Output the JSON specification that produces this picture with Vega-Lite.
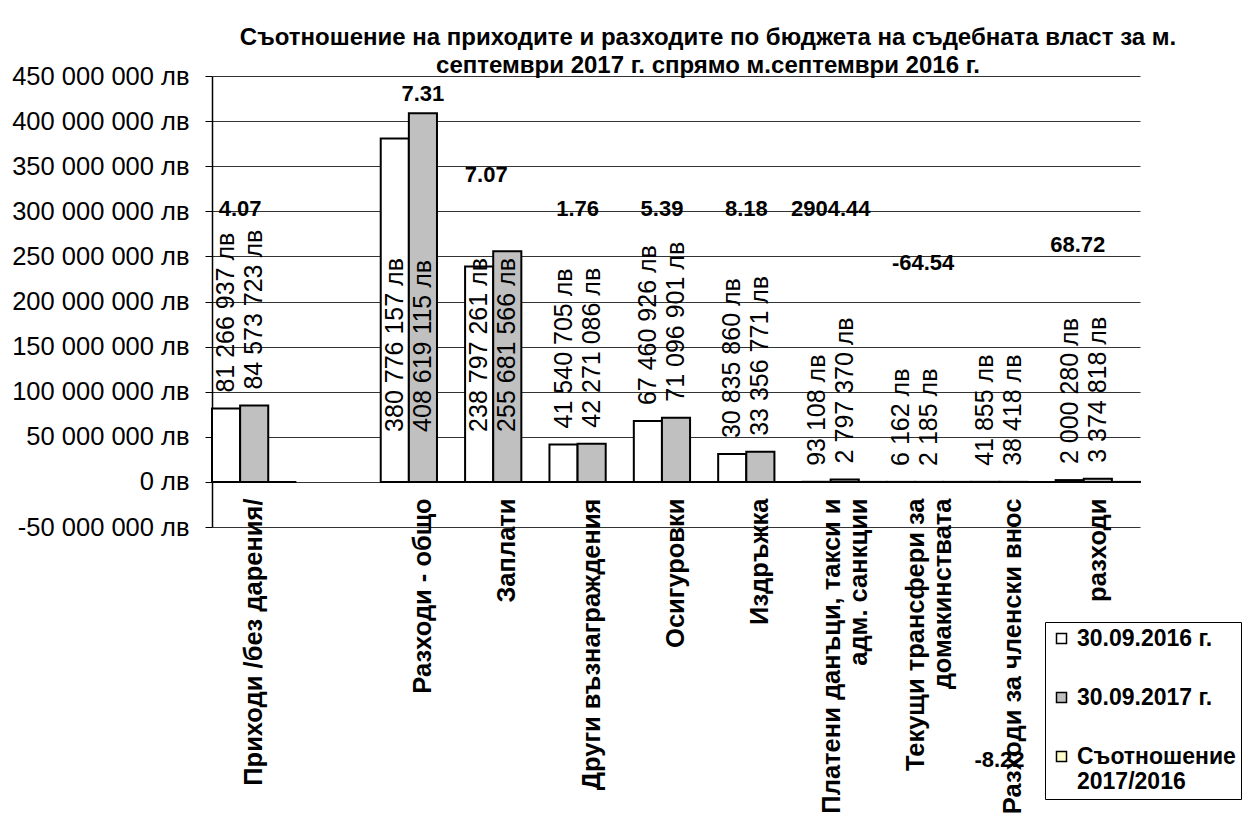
{
  "$schema": "https://vega.github.io/schema/vega-lite/v6.json",
  "width": 928,
  "height": 451,
  "autosize": {"type": "none"},
  "padding": {"left": 212, "top": 76, "right": 115, "bottom": 302},
  "background": "white",
  "config": {
    "locale": {"number": {"decimal": ".", "thousands": " ", "grouping": [3], "currency": ["", " лв"], "minus": "-"}},
    "font": "Liberation Sans",
    "view": {"stroke": null}
  },
  "title": {
    "text": ["Съотношение на приходите и разходите по бюджета на съдебната власт за м.", "септември 2017 г. спрямо м.септември 2016 г."],
    "font": "Liberation Sans",
    "fontSize": 24,
    "fontWeight": "bold",
    "color": "black",
    "anchor": "middle",
    "frame": "group",
    "dx": 32,
    "dy": 18,
    "offset": 4,
    "lineHeight": 28
  },
  "data": {
    "values": [
      {"category": "Приходи /без дарения/", "series": "30.09.2016 г.", "value": 81266937},
      {"category": "Приходи /без дарения/", "series": "30.09.2017 г.", "value": 84573723},
      {"category": "Приходи /без дарения/", "series": "Съотношение 2017/2016", "value": 4.07},
      {"category": "Разходи - общо", "series": "30.09.2016 г.", "value": 380776157},
      {"category": "Разходи - общо", "series": "30.09.2017 г.", "value": 408619115},
      {"category": "Разходи - общо", "series": "Съотношение 2017/2016", "value": 7.31},
      {"category": "Заплати", "series": "30.09.2016 г.", "value": 238797261},
      {"category": "Заплати", "series": "30.09.2017 г.", "value": 255681566},
      {"category": "Заплати", "series": "Съотношение 2017/2016", "value": 7.07},
      {"category": "Други възнаграждения", "series": "30.09.2016 г.", "value": 41540705},
      {"category": "Други възнаграждения", "series": "30.09.2017 г.", "value": 42271086},
      {"category": "Други възнаграждения", "series": "Съотношение 2017/2016", "value": 1.76},
      {"category": "Осигуровки", "series": "30.09.2016 г.", "value": 67460926},
      {"category": "Осигуровки", "series": "30.09.2017 г.", "value": 71096901},
      {"category": "Осигуровки", "series": "Съотношение 2017/2016", "value": 5.39},
      {"category": "Издръжка", "series": "30.09.2016 г.", "value": 30835860},
      {"category": "Издръжка", "series": "30.09.2017 г.", "value": 33356771},
      {"category": "Издръжка", "series": "Съотношение 2017/2016", "value": 8.18},
      {"category": "Платени данъци, такси и\nадм. санкции", "series": "30.09.2016 г.", "value": 93108},
      {"category": "Платени данъци, такси и\nадм. санкции", "series": "30.09.2017 г.", "value": 2797370},
      {"category": "Платени данъци, такси и\nадм. санкции", "series": "Съотношение 2017/2016", "value": 2904.44},
      {"category": "Текущи трансфери за\nдомакинствата", "series": "30.09.2016 г.", "value": 6162},
      {"category": "Текущи трансфери за\nдомакинствата", "series": "30.09.2017 г.", "value": 2185},
      {"category": "Текущи трансфери за\nдомакинствата", "series": "Съотношение 2017/2016", "value": -64.54},
      {"category": "Разходи за членски внос", "series": "30.09.2016 г.", "value": 41855},
      {"category": "Разходи за членски внос", "series": "30.09.2017 г.", "value": 38418},
      {"category": "Разходи за членски внос", "series": "Съотношение 2017/2016", "value": -8.22},
      {"category": "Капиталови\u00a0\u00a0\u00a0\u00a0разходи", "series": "30.09.2016 г.", "value": 2000280},
      {"category": "Капиталови\u00a0\u00a0\u00a0\u00a0разходи", "series": "30.09.2017 г.", "value": 3374818},
      {"category": "Капиталови\u00a0\u00a0\u00a0\u00a0разходи", "series": "Съотношение 2017/2016", "value": 68.72}
    ]
  },
  "encoding": {
    "x": {
      "field": "category",
      "type": "nominal",
      "scale": {
        "domain": ["Приходи /без дарения/", " ", "Разходи - общо", "Заплати", "Други възнаграждения", "Осигуровки", "Издръжка", "Платени данъци, такси и\nадм. санкции", "Текущи трансфери за\nдомакинствата", "Разходи за членски внос", "Капиталови\u00a0\u00a0\u00a0\u00a0разходи"],
        "paddingInner": 0,
        "paddingOuter": 0
      },
      "axis": {
        "title": null,
        "orient": "bottom",
        "offset": -45,
        "domain": false,
        "ticks": false,
        "grid": false,
        "labelAngle": -90,
        "labelAlign": "right",
        "labelBaseline": "middle",
        "labelFont": "Liberation Sans",
        "labelFontSize": 25.5,
        "labelFontWeight": "bold",
        "labelColor": "black",
        "labelLimit": 600,
        "labelPadding": 16,
        "labelOverlap": false,
        "labelLineHeight": 27,
        "labelOffset": {"condition": {"test": "indexof(datum.value, '\\n') >= 0", "value": -13}, "value": 0},
        "labelExpr": "split(datum.label, '\\n')"
      }
    }
  },
  "layer": [
    {
      "mark": {"type": "bar", "stroke": "black", "strokeWidth": 2},
      "encoding": {
        "xOffset": {
          "field": "series",
          "type": "nominal",
          "scale": {"domain": ["30.09.2016 г.", "30.09.2017 г.", "Съотношение 2017/2016"], "paddingInner": 0, "paddingOuter": 0}
        },
        "y": {
          "field": "value",
          "type": "quantitative",
          "scale": {"domain": [-50000000, 450000000], "nice": false, "zero": true},
          "axis": {
            "title": null,
            "values": [-50000000, 0, 50000000, 100000000, 150000000, 200000000, 250000000, 300000000, 350000000, 400000000, 450000000],
            "format": "$,.0f",
            "labelFont": "Liberation Sans",
            "labelFontSize": 25.5,
            "labelLimit": 400,
            "labelColor": "black",
            "labelPadding": 16,
            "grid": true,
            "gridColor": "#333333",
            "gridWidth": 1,
            "domainColor": "black",
            "domainWidth": 1.5,
            "tickColor": "black",
            "tickSize": 7,
            "tickWidth": 1
          }
        },
        "color": {
          "field": "series",
          "type": "nominal",
          "scale": {"domain": ["30.09.2016 г.", "30.09.2017 г.", "Съотношение 2017/2016"], "range": ["#FFFFFF", "#C0C0C0", "#FFFFCC"]},
          "legend": {
            "title": null,
            "orient": "none",
            "legendX": 833,
            "legendY": 546,
            "direction": "vertical",
            "symbolType": "square",
            "symbolSize": 100,
            "symbolStrokeColor": "black",
            "symbolStrokeWidth": 1.5,
            "symbolOpacity": 1,
            "labelFont": "Liberation Sans",
            "labelFontSize": 23,
            "labelFontWeight": "bold",
            "labelColor": "black",
            "labelLimit": 400,
            "labelOffset": 4,
            "rowPadding": 35,
            "padding": 5,
            "strokeColor": "black",
            "fillColor": "white",
            "labelExpr": "datum.label == 'Съотношение 2017/2016' ? ['Съотношение', '2017/2016'] : datum.label"
          }
        }
      }
    },
    {
      "transform": [{"filter": "datum.series != 'Съотношение 2017/2016' && datum.value < 200000000"}],
      "mark": {"type": "text", "angle": 270, "align": "left", "baseline": "middle", "dx": 16, "fontSize": 25, "font": "Liberation Sans", "color": "black"},
      "encoding": {
        "xOffset": {"field": "series", "type": "nominal"},
        "y": {"field": "value", "type": "quantitative"},
        "text": {"field": "value", "type": "quantitative", "format": "$,.0f"}
      }
    },
    {
      "transform": [{"filter": "datum.series != 'Съотношение 2017/2016' && datum.value >= 200000000"}],
      "mark": {"type": "text", "angle": 270, "align": "left", "baseline": "middle", "dx": 50, "fontSize": 25, "font": "Liberation Sans", "color": "black"},
      "encoding": {
        "xOffset": {"field": "series", "type": "nominal"},
        "y": {"datum": 0, "type": "quantitative"},
        "text": {"field": "value", "type": "quantitative", "format": "$,.0f"}
      }
    },
    {
      "transform": [{"filter": "datum.series == 'Съотношение 2017/2016' && indexof(['Приходи /без дарения/', 'Други възнаграждения', 'Осигуровки', 'Издръжка', 'Платени данъци, такси и\\nадм. санкции'], datum.category) >= 0"}],
      "mark": {"type": "text", "align": "center", "baseline": "middle", "dx": -14, "fontSize": 22, "fontWeight": "bold", "font": "Liberation Sans", "color": "black"},
      "encoding": {
        "xOffset": {"datum": "30.09.2017 г."},
        "y": {"datum": 302000000, "type": "quantitative"},
        "text": {"field": "value", "type": "quantitative", "format": ".2f"}
      }
    },
    {
      "transform": [{"filter": "datum.series == 'Съотношение 2017/2016' && datum.category == 'Разходи - общо'"}],
      "mark": {"type": "text", "align": "center", "baseline": "middle", "dx": 0, "fontSize": 22, "fontWeight": "bold", "font": "Liberation Sans", "color": "black"},
      "encoding": {
        "xOffset": {"datum": "30.09.2017 г."},
        "y": {"datum": 430000000, "type": "quantitative"},
        "text": {"field": "value", "type": "quantitative", "format": ".2f"}
      }
    },
    {
      "transform": [{"filter": "datum.series == 'Съотношение 2017/2016' && datum.category == 'Заплати'"}],
      "mark": {"type": "text", "align": "center", "baseline": "middle", "dx": -21, "fontSize": 22, "fontWeight": "bold", "font": "Liberation Sans", "color": "black"},
      "encoding": {
        "xOffset": {"datum": "30.09.2017 г."},
        "y": {"datum": 340000000, "type": "quantitative"},
        "text": {"field": "value", "type": "quantitative", "format": ".2f"}
      }
    },
    {
      "transform": [{"filter": "datum.series == 'Съотношение 2017/2016' && indexof(datum.category, 'Текущи') == 0"}],
      "mark": {"type": "text", "align": "center", "baseline": "middle", "dx": -6, "fontSize": 22, "fontWeight": "bold", "font": "Liberation Sans", "color": "black"},
      "encoding": {
        "xOffset": {"datum": "30.09.2017 г."},
        "y": {"datum": 243000000, "type": "quantitative"},
        "text": {"field": "value", "type": "quantitative", "format": ".2f"}
      }
    },
    {
      "transform": [{"filter": "datum.series == 'Съотношение 2017/2016' && indexof(datum.category, 'Капиталови') == 0"}],
      "mark": {"type": "text", "align": "center", "baseline": "middle", "dx": -20, "fontSize": 22, "fontWeight": "bold", "font": "Liberation Sans", "color": "black"},
      "encoding": {
        "xOffset": {"datum": "30.09.2017 г."},
        "y": {"datum": 263000000, "type": "quantitative"},
        "text": {"field": "value", "type": "quantitative", "format": ".2f"}
      }
    },
    {
      "transform": [{"filter": "datum.series == 'Съотношение 2017/2016' && datum.category == 'Разходи за членски внос'"}],
      "mark": {"type": "text", "align": "center", "baseline": "middle", "dx": -14, "fontSize": 22, "fontWeight": "bold", "font": "Liberation Sans", "color": "black"},
      "encoding": {
        "xOffset": {"datum": "30.09.2017 г."},
        "y": {"datum": -308000000, "type": "quantitative"},
        "text": {"field": "value", "type": "quantitative", "format": ".2f"}
      }
    }
  ]
}
